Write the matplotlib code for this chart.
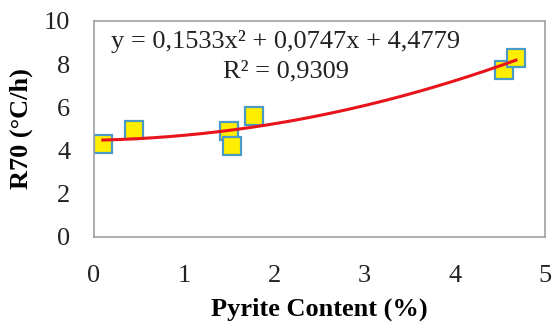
import numpy as np
import matplotlib.pyplot as plt

plt.rcParams['font.family'] = ['Liberation Serif', 'DejaVu Serif']

# measured points
pyrite = [0.1, 0.45, 1.5, 1.53, 1.78, 4.55, 4.68]
r70 = [4.3, 4.95, 4.9, 4.2, 5.6, 7.73, 8.3]

# excel trendline coefficients (a, b, c) and R²
coeffs = [0.1533, 0.0747, 4.4779]
r2 = 0.9309

fig = plt.figure(figsize=(5.52, 3.22), dpi=100)
ax = fig.add_axes([0.170, 0.264, 0.817, 0.671])

x_fit = np.linspace(min(pyrite), max(pyrite), 200)
y_fit = np.polyval(coeffs, x_fit)
ax.plot(x_fit, y_fit, color='#e8141c', lw=2.2, zorder=3)

ax.plot(pyrite, r70, 's', ms=13.5, mfc='#ffee00', mec='#4a9ac8', mew=1.6,
        linestyle='none', zorder=2)

ax.set_xlim(0, 5)
ax.set_ylim(0, 10)
ax.set_xticks(range(0, 6))
ax.set_yticks(range(0, 11, 2))
ax.tick_params(length=0, labelsize=19, colors='#222222')
ax.tick_params(axis='x', pad=20)
ax.tick_params(axis='y', pad=17)
for s in ax.spines.values():
    s.set_color('#a0a0a0')
    s.set_linewidth(1.2)

ax.set_xlabel('Pyrite Content (%)', fontsize=19, fontweight='bold', labelpad=8)
ax.set_ylabel('R70 (°C/h)', fontsize=19, fontweight='bold', labelpad=8)

eq = 'y = {:.4f}x² + {:.4f}x + {:.4f}'.format(*coeffs).replace('.', ',')
ax.text(0.425, 0.905, eq, transform=ax.transAxes, ha='center', va='center',
        fontsize=19, color='#222222')
ax.text(0.425, 0.765, 'R² = {:.4f}'.format(r2).replace('.', ','),
        transform=ax.transAxes, ha='center', va='center', fontsize=19,
        color='#222222')

plt.savefig('out.png', dpi=100)
